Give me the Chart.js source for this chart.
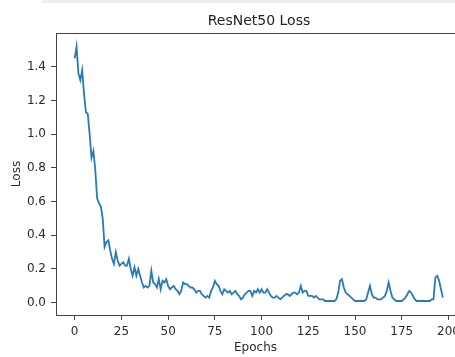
<!DOCTYPE html>
<html><head><meta charset="utf-8">
<script src="https://cdn.jsdelivr.net/npm/chart.js@4/dist/chart.umd.min.js"></script>
<style>
html,body{margin:0;padding:0;background:#fff;overflow:hidden}
#wrap{position:relative;width:455px;height:357px}
#strip{position:absolute;left:42px;top:0;width:413px;height:3px;background:#eeeeee}
canvas{display:block}
</style></head><body>
<div id="wrap"><div id="strip"></div><canvas id="c" width="455" height="357"></canvas></div>
<script>
const chartTitle = 'ResNet50 Loss';
const xLabel = 'Epochs';
const yLabel = 'Loss';
const loss = [
 1.45,1.52,1.36,1.32,1.38,1.24,1.13,1.12,1.00,0.86,
 0.90,0.79,0.62,0.59,0.57,0.50,0.33,0.36,0.37,0.31,
 0.26,0.23,0.30,0.25,0.22,0.23,0.24,0.22,0.22,0.26,
 0.20,0.16,0.21,0.16,0.20,0.16,0.12,0.09,0.10,0.09,
 0.10,0.19,0.12,0.11,0.09,0.14,0.08,0.13,0.12,0.14,
 0.10,0.08,0.09,0.10,0.08,0.07,0.05,0.07,0.12,0.11,
 0.11,0.10,0.09,0.09,0.08,0.06,0.07,0.07,0.05,0.04,
 0.03,0.04,0.03,0.07,0.09,0.13,0.11,0.10,0.07,0.05,
 0.08,0.07,0.06,0.07,0.05,0.06,0.07,0.05,0.04,0.02,
 0.03,0.05,0.06,0.07,0.07,0.04,0.07,0.06,0.08,0.06,
 0.08,0.06,0.06,0.08,0.06,0.04,0.03,0.03,0.04,0.03,
 0.02,0.03,0.04,0.05,0.05,0.04,0.05,0.06,0.06,0.05,
 0.06,0.10,0.06,0.07,0.07,0.04,0.04,0.04,0.03,0.04,
 0.03,0.02,0.02,0.02,0.01,0.01,0.01,0.01,0.01,0.01,
 0.02,0.06,0.13,0.14,0.09,0.06,0.05,0.04,0.03,0.02,
 0.01,0.01,0.01,0.01,0.01,0.01,0.02,0.06,0.10,0.05,
 0.03,0.03,0.02,0.02,0.02,0.03,0.04,0.07,0.12,0.07,
 0.03,0.02,0.01,0.01,0.01,0.01,0.02,0.03,0.05,0.07,
 0.06,0.04,0.02,0.01,0.01,0.01,0.01,0.01,0.01,0.01,
 0.01,0.02,0.02,0.15,0.16,0.13,0.08,0.03
];
const epochs = Array.from({length: loss.length}, (_, i) => i);
const xTicks = [0,25,50,75,100,125,150,175,200];
const yTicks = [0,0.2,0.4,0.6,0.8,1.0,1.2,1.4];

const FONT = 'DejaVu Sans';
const TXT = '#2b2b2b';
const SPINE = '#444444';

const decor = {
  id: 'decor',
  afterDraw(chart) {
    const {ctx, chartArea} = chart;
    ctx.save();
    ctx.strokeStyle = SPINE;
    ctx.lineWidth = 1;
    ctx.beginPath();
    ctx.moveTo(chartArea.left, chartArea.top + 0.5);
    ctx.lineTo(chartArea.right, chartArea.top + 0.5);
    ctx.stroke();
    ctx.fillStyle = '#222222';
    ctx.font = '14px "' + FONT + '"';
    ctx.textAlign = 'center';
    ctx.textBaseline = 'middle';
    ctx.fillText(chartTitle, 259, 21);
    ctx.restore();
  }
};

new Chart(document.getElementById('c'), {
  type: 'line',
  data: {
    datasets: [{
      data: epochs.map((e, i) => ({x: e, y: loss[i]})),
      borderColor: '#2a7ab8',
      borderWidth: 1.8,
      pointRadius: 0,
      tension: 0,
      fill: false
    }]
  },
  options: {
    responsive: false,
    animation: false,
    devicePixelRatio: 1,
    layout: {padding: {top: 33, left: 0, right: 0, bottom: 0}},
    plugins: {legend: {display: false}, tooltip: {enabled: false}, title: {display: false}},
    scales: {
      x: {
        type: 'linear', min: -10, max: 203.5,
        afterBuildTicks: s => { s.ticks = xTicks.map(v => ({value: v})); },
        afterFit: s => { s.height = 42; s.paddingLeft = 0; s.paddingRight = 0; },
        grid: {drawOnChartArea: false, drawTicks: true, tickLength: 5, tickColor: SPINE, tickWidth: 1},
        border: {display: true, color: SPINE, width: 1},
        ticks: {font: {family: FONT, size: 12}, color: TXT, padding: 5, maxRotation: 0, autoSkip: false,
                callback: v => String(v)},
        title: {display: true, text: xLabel, font: {family: FONT, size: 12}, color: TXT, padding: {top: 0, bottom: 2}}
      },
      y: {
        type: 'linear', min: -0.073, max: 1.6,
        afterBuildTicks: s => { s.ticks = yTicks.map(v => ({value: v})); },
        afterFit: s => { s.width = 56; s.paddingTop = 0; s.paddingBottom = 0; },
        grid: {drawOnChartArea: false, drawTicks: true, tickLength: 5, tickColor: SPINE, tickWidth: 1},
        border: {display: true, color: SPINE, width: 1},
        ticks: {font: {family: FONT, size: 12}, color: TXT, padding: 5, autoSkip: false,
                callback: v => Number(v).toFixed(1)},
        title: {display: true, text: yLabel, font: {family: FONT, size: 12}, color: TXT, padding: {top: 10, bottom: 0}}
      }
    }
  },
  plugins: [decor]
});
</script>
</body></html>
